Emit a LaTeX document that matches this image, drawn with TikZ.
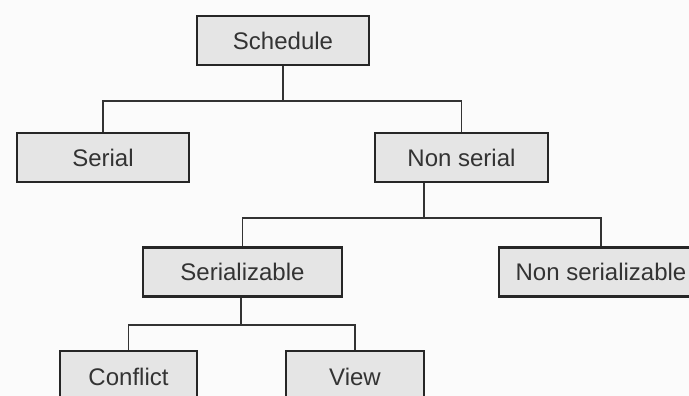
\documentclass[tikz,border=0pt]{standalone}
\usepackage{fontspec}
\setmainfont{Liberation Sans}
\begin{document}
\begin{tikzpicture}[
    x=1pt, y=-1pt,
    boxnode/.style={draw=black!85, line width=2.5pt, fill=black!10, text=black!80,
        font=\fontsize{24}{28}\selectfont, minimum height=49pt, inner sep=0pt},
    linkline/.style={draw=black!80, line width=1.4pt}
]
% Canvas
\fill[white!98.5!black] (0,0) rectangle (689,396);
\useasboundingbox (0,0) rectangle (689,396);
% Boxes
\node[boxnode, minimum width=172pt] (schedule) at (283,40.5) {Schedule};
\node[boxnode, minimum width=172pt] (serial) at (103,157.5) {Serial};
\node[boxnode, minimum width=173pt] (nonserial) at (461.5,157.5) {Non serial};
\node[boxnode, minimum width=199pt] (serializable) at (242.5,272) {Serializable};
\node[boxnode, minimum width=204pt] (nonserializable) at (601,272) {Non serializable};
\node[boxnode, minimum width=137pt, minimum height=52pt] (conflict) at (128.5,377) {Conflict};
\node[boxnode, minimum width=138pt, minimum height=52pt] (view) at (355,377) {View};
% Branch points
\coordinate (split1) at (283,101);
\coordinate (split2) at (424,218);
\coordinate (split3) at (241,325);
% Links
\draw[linkline] (schedule.south) -- (split1) -| (serial.north);
\draw[linkline] (split1) -| (nonserial.north);
\draw[linkline] (split2 |- nonserial.south) -- (split2) -| (serializable.north);
\draw[linkline] (split2) -| (nonserializable.north);
\draw[linkline] (split3 |- serializable.south) -- (split3) -| (conflict.north);
\draw[linkline] (split3) -| (view.north);
\end{tikzpicture}
\end{document}
